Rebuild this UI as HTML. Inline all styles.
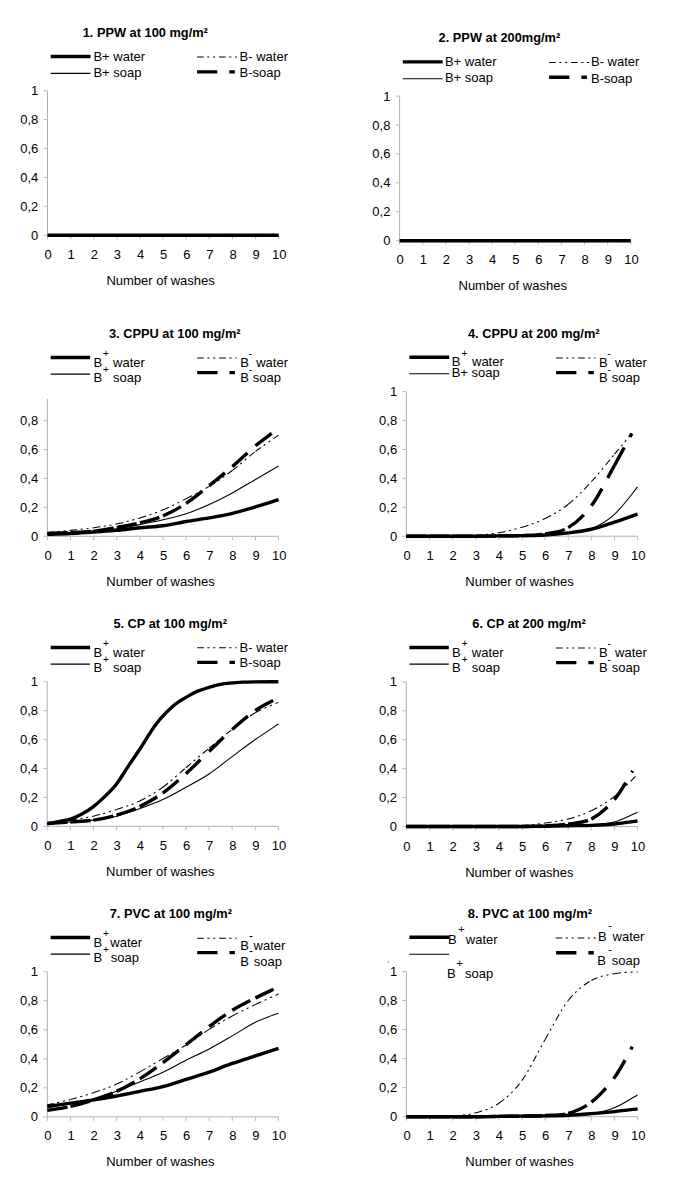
<!DOCTYPE html>
<html><head><meta charset="utf-8"><style>
html,body{margin:0;padding:0;background:#fff;}
svg{display:block;}
text{font-family:"Liberation Sans",sans-serif;font-size:13px;fill:#000;}
</style></head><body>
<svg width="685" height="1183" viewBox="0 0 685 1183">
<text x="82.7" y="36.8" font-weight="bold" style="font-size:12.8px">1. PPW at 100 mg/m²</text>
<path d="M50.7 56.5H90.5" stroke="#000" stroke-width="3.4" fill="none" stroke-linejoin="round"/>
<path d="M50.7 73.4H90.5" stroke="#000" stroke-width="1.1" fill="none"/>
<text x="93.4" y="60.9">B+ water</text>
<text x="93.4" y="76.9">B+ soap</text>
<path d="M197 57H237" stroke="#000" stroke-width="1.05" fill="none" stroke-dasharray="6.7 3.5 2.1 3.7 2.1 3.9"/>
<path d="M197 71.9H234.8" stroke="#000" stroke-width="3.4" fill="none" stroke-dasharray="20.3 12"/>
<text x="239.6" y="61">B- water</text>
<text x="239.6" y="77.2">B-soap</text>
<path d="M47.5 90.7V235.3" stroke="#b0b0b0" stroke-width="1" fill="none"/>
<path d="M47.5 235.3H278.7" stroke="#b0b0b0" stroke-width="1" fill="none"/>
<path d="M43.5 235.3H47.5 M43.5 206.38H47.5 M43.5 177.46H47.5 M43.5 148.54H47.5 M43.5 119.62H47.5 M43.5 90.7H47.5 M47.5 235.3V239.3 M70.62 235.3V239.3 M93.74 235.3V239.3 M116.86 235.3V239.3 M139.98 235.3V239.3 M163.1 235.3V239.3 M186.22 235.3V239.3 M209.34 235.3V239.3 M232.46 235.3V239.3 M255.58 235.3V239.3 M278.7 235.3V239.3" stroke="#bdbdbd" stroke-width="1" fill="none"/>
<text x="38.3" y="239.8" text-anchor="end">0</text>
<text x="38.3" y="210.88" text-anchor="end">0,2</text>
<text x="38.3" y="181.96" text-anchor="end">0,4</text>
<text x="38.3" y="153.04" text-anchor="end">0,6</text>
<text x="38.3" y="124.12" text-anchor="end">0,8</text>
<text x="38.3" y="95.2" text-anchor="end">1</text>
<text x="48.1" y="258.9" text-anchor="middle">0</text>
<text x="71.22" y="258.9" text-anchor="middle">1</text>
<text x="94.34" y="258.9" text-anchor="middle">2</text>
<text x="117.46" y="258.9" text-anchor="middle">3</text>
<text x="140.58" y="258.9" text-anchor="middle">4</text>
<text x="163.7" y="258.9" text-anchor="middle">5</text>
<text x="186.82" y="258.9" text-anchor="middle">6</text>
<text x="209.94" y="258.9" text-anchor="middle">7</text>
<text x="233.06" y="258.9" text-anchor="middle">8</text>
<text x="256.18" y="258.9" text-anchor="middle">9</text>
<text x="279.3" y="258.9" text-anchor="middle">10</text>
<text x="106.4" y="285">Number of washes</text>
<path d="M47.5 235.3H278.7" stroke="#000" stroke-width="3.4" fill="none" stroke-linejoin="round"/>
<text x="438.6" y="41.8" font-weight="bold" style="font-size:12.8px">2. PPW at 200mg/m²</text>
<path d="M402.8 61.9H442.6" stroke="#000" stroke-width="3.4" fill="none" stroke-linejoin="round"/>
<path d="M402.8 78.8H442.6" stroke="#000" stroke-width="1.1" fill="none"/>
<text x="444.9" y="66.3">B+ water</text>
<text x="444.9" y="82.3">B+ soap</text>
<path d="M549.1 62.4H589.1" stroke="#000" stroke-width="1.05" fill="none" stroke-dasharray="6.7 3.5 2.1 3.7 2.1 3.9"/>
<path d="M549.1 77.3H586.9" stroke="#000" stroke-width="3.4" fill="none" stroke-dasharray="20.3 12"/>
<text x="591" y="66.4">B- water</text>
<text x="591" y="82.6">B-soap</text>
<path d="M399.6 96.1V240.7" stroke="#b0b0b0" stroke-width="1" fill="none"/>
<path d="M399.6 240.7H630.8" stroke="#b0b0b0" stroke-width="1" fill="none"/>
<path d="M395.6 240.7H399.6 M395.6 211.78H399.6 M395.6 182.86H399.6 M395.6 153.94H399.6 M395.6 125.02H399.6 M395.6 96.1H399.6 M399.6 240.7V244.7 M422.72 240.7V244.7 M445.84 240.7V244.7 M468.96 240.7V244.7 M492.08 240.7V244.7 M515.2 240.7V244.7 M538.32 240.7V244.7 M561.44 240.7V244.7 M584.56 240.7V244.7 M607.68 240.7V244.7 M630.8 240.7V244.7" stroke="#bdbdbd" stroke-width="1" fill="none"/>
<text x="390.4" y="245.2" text-anchor="end">0</text>
<text x="390.4" y="216.28" text-anchor="end">0,2</text>
<text x="390.4" y="187.36" text-anchor="end">0,4</text>
<text x="390.4" y="158.44" text-anchor="end">0,6</text>
<text x="390.4" y="129.52" text-anchor="end">0,8</text>
<text x="390.4" y="100.6" text-anchor="end">1</text>
<text x="400.2" y="263.7" text-anchor="middle">0</text>
<text x="423.32" y="263.7" text-anchor="middle">1</text>
<text x="446.44" y="263.7" text-anchor="middle">2</text>
<text x="469.56" y="263.7" text-anchor="middle">3</text>
<text x="492.68" y="263.7" text-anchor="middle">4</text>
<text x="515.8" y="263.7" text-anchor="middle">5</text>
<text x="538.92" y="263.7" text-anchor="middle">6</text>
<text x="562.04" y="263.7" text-anchor="middle">7</text>
<text x="585.16" y="263.7" text-anchor="middle">8</text>
<text x="608.28" y="263.7" text-anchor="middle">9</text>
<text x="631.4" y="263.7" text-anchor="middle">10</text>
<text x="458.5" y="289.9">Number of washes</text>
<path d="M399.6 240.7H630.8" stroke="#000" stroke-width="3.4" fill="none" stroke-linejoin="round"/>
<text x="109" y="338" font-weight="bold" style="font-size:12.8px">3. CPPU at 100 mg/m²</text>
<path d="M50.7 357.5H90.1" stroke="#000" stroke-width="3.4" fill="none" stroke-linejoin="round"/>
<path d="M50.7 374.1H90.1" stroke="#000" stroke-width="1.1" fill="none"/>
<text x="93.4" y="367">B</text>
<text x="103.1" y="357" style="font-size:10px">+</text>
<text x="113.1" y="367">water</text>
<text x="93.4" y="382.2">B</text>
<text x="103.1" y="373" style="font-size:10px">+</text>
<text x="113.1" y="382.2">soap</text>
<path d="M197.2 357.9H236.6" stroke="#000" stroke-width="1.05" fill="none" stroke-dasharray="6.7 3.5 2.1 3.7 2.1 3.9"/>
<path d="M197.2 372.6H234.9" stroke="#000" stroke-width="3.4" fill="none" stroke-dasharray="20.3 12"/>
<text x="240.2" y="366.5">B</text>
<text x="248.7" y="356.5" style="font-size:10px">-</text>
<text x="256.2" y="366.5">water</text>
<text x="240.2" y="382.3">B</text>
<text x="248.7" y="373.3" style="font-size:10px">-</text>
<text x="252.8" y="382.3">soap</text>
<path d="M47.4 398.93V536.3" stroke="#b0b0b0" stroke-width="1" fill="none"/>
<path d="M47.4 536.3H278.6" stroke="#b0b0b0" stroke-width="1" fill="none"/>
<path d="M43.4 536.3H47.4 M43.4 507.38H47.4 M43.4 478.46H47.4 M43.4 449.54H47.4 M43.4 420.62H47.4 M47.4 536.3V540.3 M70.52 536.3V540.3 M93.64 536.3V540.3 M116.76 536.3V540.3 M139.88 536.3V540.3 M163 536.3V540.3 M186.12 536.3V540.3 M209.24 536.3V540.3 M232.36 536.3V540.3 M255.48 536.3V540.3 M278.6 536.3V540.3" stroke="#bdbdbd" stroke-width="1" fill="none"/>
<text x="38.2" y="540.8" text-anchor="end">0</text>
<text x="38.2" y="511.88" text-anchor="end">0,2</text>
<text x="38.2" y="482.96" text-anchor="end">0,4</text>
<text x="38.2" y="454.04" text-anchor="end">0,6</text>
<text x="38.2" y="425.12" text-anchor="end">0,8</text>
<text x="48" y="560.3" text-anchor="middle">0</text>
<text x="71.12" y="560.3" text-anchor="middle">1</text>
<text x="94.24" y="560.3" text-anchor="middle">2</text>
<text x="117.36" y="560.3" text-anchor="middle">3</text>
<text x="140.48" y="560.3" text-anchor="middle">4</text>
<text x="163.6" y="560.3" text-anchor="middle">5</text>
<text x="186.72" y="560.3" text-anchor="middle">6</text>
<text x="209.84" y="560.3" text-anchor="middle">7</text>
<text x="232.96" y="560.3" text-anchor="middle">8</text>
<text x="256.08" y="560.3" text-anchor="middle">9</text>
<text x="279.2" y="560.3" text-anchor="middle">10</text>
<text x="106.3" y="586.3">Number of washes</text>
<path d="M47.4 534.42C51.25 534.25 62.81 533.82 70.52 533.41C78.23 533 85.93 532.73 93.64 531.96C101.35 531.19 109.05 530.01 116.76 528.78C124.47 527.55 132.17 526.08 139.88 524.59C147.59 523.09 155.29 521.62 163 519.82C170.71 518.01 178.41 516.3 186.12 513.74C193.83 511.19 201.53 507.96 209.24 504.49C216.95 501.02 224.65 497.09 232.36 492.92C240.07 488.75 247.77 483.95 255.48 479.47C263.19 474.99 274.75 468.27 278.6 466.02" stroke="#000" stroke-width="1.1" fill="none"/>
<path d="M47.4 534.42C51.25 534.28 62.81 533.96 70.52 533.55C78.23 533.14 85.93 532.49 93.64 531.96C101.35 531.43 109.05 531.07 116.76 530.37C124.47 529.67 132.17 528.54 139.88 527.77C147.59 527 155.29 526.78 163 525.74C170.71 524.71 178.41 522.85 186.12 521.55C193.83 520.25 201.53 519.29 209.24 517.94C216.95 516.59 224.65 515.28 232.36 513.45C240.07 511.62 247.77 509.24 255.48 506.95C263.19 504.66 274.75 500.92 278.6 499.72" stroke="#000" stroke-width="3.4" fill="none" stroke-linejoin="round"/>
<g stroke="#000" stroke-width="1.05" fill="none" stroke-dasharray="6.7 3.5 2.1 3.7 2.1 3.9"><path d="M47.4 532.54C51.25 532.18 62.81 531.17 70.52 530.37"/><path d="M70.52 530.37C78.23 529.58 85.93 528.85 93.64 527.77"/><path d="M93.64 527.77C101.35 526.68 109.05 525.5 116.76 523.86"/><path d="M116.76 523.86C124.47 522.23 132.17 520.27 139.88 517.94"/><path d="M139.88 517.94C147.59 515.6 155.29 513.04 163 509.84"/><path d="M163 509.84C170.71 506.63 178.41 502.61 186.12 498.7"/><path d="M186.12 498.7C193.83 494.8 201.53 491.11 209.24 486.41"/><path d="M209.24 486.41C216.95 481.71 224.65 476.34 232.36 470.51"/><path d="M232.36 470.51C240.07 464.67 247.77 457.32 255.48 451.42"/><path d="M255.48 451.42C263.19 445.52 274.75 437.8 278.6 435.08"/></g>
<g stroke="#000" stroke-width="3.4" fill="none" stroke-dasharray="20.3 12"><path d="M47.4 533.41C51.25 533.29 62.81 533.05 70.52 532.68"/><path d="M70.52 532.68C78.23 532.32 85.93 532.13 93.64 531.24"/><path d="M93.64 531.24C101.35 530.35 109.05 528.73 116.76 527.33"/><path d="M116.76 527.33C124.47 525.94 132.17 524.76 139.88 522.85"/><path d="M139.88 522.85C147.59 520.95 155.29 519.16 163 515.91"/><path d="M163 515.91C170.71 512.66 178.41 508.39 186.12 503.33"/><path d="M186.12 503.33C193.83 498.27 201.53 491.67 209.24 485.55"/><path d="M209.24 485.55C216.95 479.42 224.65 473.23 232.36 466.6"/><path d="M232.36 466.6C240.07 459.98 248.89 451.32 255.48 445.78"/><path d="M255.48 445.78C262.07 440.24 269.16 435.42 271.9 433.34"/></g>
<text x="468" y="338" font-weight="bold" style="font-size:12.8px">4. CPPU at 200 mg/m²</text>
<path d="M409.4 357.3H449.2" stroke="#000" stroke-width="3.4" fill="none" stroke-linejoin="round"/>
<path d="M409.4 373.8H449.2" stroke="#000" stroke-width="1.1" fill="none"/>
<text x="451.7" y="366.4">B</text>
<text x="461.5" y="356.9" style="font-size:10px">+</text>
<text x="472" y="366.4">water</text>
<text x="451.7" y="377">B+ soap</text>
<path d="M556.1 357.9H595.5" stroke="#000" stroke-width="1.05" fill="none" stroke-dasharray="6.7 3.5 2.1 3.7 2.1 3.9"/>
<path d="M556.1 372.6H593.8" stroke="#000" stroke-width="3.4" fill="none" stroke-dasharray="20.3 12"/>
<text x="599.1" y="366.5">B</text>
<text x="607.6" y="356.5" style="font-size:10px">-</text>
<text x="615.1" y="366.5">water</text>
<text x="599.1" y="382.3">B</text>
<text x="607.6" y="373.3" style="font-size:10px">-</text>
<text x="611.7" y="382.3">soap</text>
<path d="M406.4 391.6V536.2" stroke="#b0b0b0" stroke-width="1" fill="none"/>
<path d="M406.4 536.2H637.6" stroke="#b0b0b0" stroke-width="1" fill="none"/>
<path d="M402.4 536.2H406.4 M402.4 507.28H406.4 M402.4 478.36H406.4 M402.4 449.44H406.4 M402.4 420.52H406.4 M402.4 391.6H406.4 M406.4 536.2V540.2 M429.52 536.2V540.2 M452.64 536.2V540.2 M475.76 536.2V540.2 M498.88 536.2V540.2 M522 536.2V540.2 M545.12 536.2V540.2 M568.24 536.2V540.2 M591.36 536.2V540.2 M614.48 536.2V540.2 M637.6 536.2V540.2" stroke="#bdbdbd" stroke-width="1" fill="none"/>
<text x="397.2" y="540.7" text-anchor="end">0</text>
<text x="397.2" y="511.78" text-anchor="end">0,2</text>
<text x="397.2" y="482.86" text-anchor="end">0,4</text>
<text x="397.2" y="453.94" text-anchor="end">0,6</text>
<text x="397.2" y="425.02" text-anchor="end">0,8</text>
<text x="397.2" y="396.1" text-anchor="end">1</text>
<text x="407" y="560.2" text-anchor="middle">0</text>
<text x="430.12" y="560.2" text-anchor="middle">1</text>
<text x="453.24" y="560.2" text-anchor="middle">2</text>
<text x="476.36" y="560.2" text-anchor="middle">3</text>
<text x="499.48" y="560.2" text-anchor="middle">4</text>
<text x="522.6" y="560.2" text-anchor="middle">5</text>
<text x="545.72" y="560.2" text-anchor="middle">6</text>
<text x="568.84" y="560.2" text-anchor="middle">7</text>
<text x="591.96" y="560.2" text-anchor="middle">8</text>
<text x="615.08" y="560.2" text-anchor="middle">9</text>
<text x="638.2" y="560.2" text-anchor="middle">10</text>
<text x="465.3" y="586.2">Number of washes</text>
<path d="M406.4 536.2C410.25 536.2 421.81 536.2 429.52 536.2C437.23 536.2 444.93 536.2 452.64 536.2C460.35 536.2 468.05 536.25 475.76 536.2C483.47 536.15 491.17 536.01 498.88 535.91C506.59 535.81 514.29 535.77 522 535.62C529.71 535.48 537.41 535.43 545.12 535.04C552.83 534.66 560.53 534.34 568.24 533.31C575.95 532.27 583.65 531.98 591.36 528.83C599.07 525.67 606.77 521.35 614.48 514.37C622.19 507.38 633.75 491.47 637.6 486.89" stroke="#000" stroke-width="1.1" fill="none"/>
<path d="M406.4 536.2C410.25 536.2 421.81 536.2 429.52 536.2C437.23 536.2 444.93 536.2 452.64 536.2C460.35 536.2 468.05 536.25 475.76 536.2C483.47 536.15 491.17 536.01 498.88 535.91C506.59 535.81 514.29 535.77 522 535.62C529.71 535.48 537.41 535.5 545.12 535.04C552.83 534.59 560.53 533.84 568.24 532.87C575.95 531.91 583.65 531.04 591.36 529.26C599.07 527.48 606.77 524.7 614.48 522.17C622.19 519.64 633.75 515.43 637.6 514.08" stroke="#000" stroke-width="3.4" fill="none" stroke-linejoin="round"/>
<g stroke="#000" stroke-width="1.05" fill="none" stroke-dasharray="6.7 3.5 2.1 3.7 2.1 3.9"><path d="M406.4 536.2C410.25 536.2 421.81 536.2 429.52 536.2"/><path d="M429.52 536.2C437.23 536.2 444.93 536.32 452.64 536.2"/><path d="M452.64 536.2C460.35 536.08 468.05 536.06 475.76 535.48"/><path d="M475.76 535.48C483.47 534.9 491.17 534.1 498.88 532.73"/><path d="M498.88 532.73C506.59 531.36 514.29 529.6 522 527.23"/><path d="M522 527.23C529.71 524.87 537.41 522.39 545.12 518.56"/><path d="M545.12 518.56C552.83 514.73 560.53 510.39 568.24 504.24"/><path d="M568.24 504.24C575.95 498.1 583.65 490.02 591.36 481.69"/><path d="M591.36 481.69C599.07 473.35 607.74 462.24 614.48 454.21"/><path d="M614.48 454.21C621.22 446.19 628.93 436.98 631.82 433.53"/></g>
<g stroke="#000" stroke-width="3.4" fill="none" stroke-dasharray="20.3 12"><path d="M406.4 536.2C410.25 536.2 421.81 536.2 429.52 536.2"/><path d="M429.52 536.2C437.23 536.2 444.93 536.2 452.64 536.2"/><path d="M452.64 536.2C460.35 536.2 468.05 536.25 475.76 536.2"/><path d="M475.76 536.2C483.47 536.15 491.17 536.01 498.88 535.91"/><path d="M498.88 535.91C506.59 535.81 514.29 535.96 522 535.62"/><path d="M522 535.62C529.71 535.28 537.41 535.21 545.12 533.89"/><path d="M545.12 533.89C552.83 532.56 560.53 532.34 568.24 527.67"/><path d="M568.24 527.67C575.95 522.99 583.65 516.22 591.36 505.83"/><path d="M591.36 505.83C599.07 495.45 607.74 477.4 614.48 465.35"/><path d="M614.48 465.35C621.22 453.3 628.93 438.84 631.82 433.53"/></g>
<text x="113.4" y="628" font-weight="bold" style="font-size:12.8px">5. CP at 100 mg/m²</text>
<path d="M50.7 647.5H90.1" stroke="#000" stroke-width="3.4" fill="none" stroke-linejoin="round"/>
<path d="M50.7 664.1H90.1" stroke="#000" stroke-width="1.1" fill="none"/>
<text x="93.4" y="657">B</text>
<text x="103.1" y="647" style="font-size:10px">+</text>
<text x="113.1" y="657">water</text>
<text x="93.4" y="672.2">B</text>
<text x="103.1" y="663" style="font-size:10px">+</text>
<text x="113.1" y="672.2">soap</text>
<path d="M197.2 647.7H236.6" stroke="#000" stroke-width="1.05" fill="none" stroke-dasharray="6.7 3.5 2.1 3.7 2.1 3.9"/>
<path d="M197.2 662.4H234.9" stroke="#000" stroke-width="3.4" fill="none" stroke-dasharray="20.3 12"/>
<text x="239.6" y="651.7">B- water</text>
<text x="239.6" y="667">B-soap</text>
<path d="M47.2 681.7V826.3" stroke="#b0b0b0" stroke-width="1" fill="none"/>
<path d="M47.2 826.3H278.4" stroke="#b0b0b0" stroke-width="1" fill="none"/>
<path d="M43.2 826.3H47.2 M43.2 797.38H47.2 M43.2 768.46H47.2 M43.2 739.54H47.2 M43.2 710.62H47.2 M43.2 681.7H47.2 M47.2 826.3V830.3 M70.32 826.3V830.3 M93.44 826.3V830.3 M116.56 826.3V830.3 M139.68 826.3V830.3 M162.8 826.3V830.3 M185.92 826.3V830.3 M209.04 826.3V830.3 M232.16 826.3V830.3 M255.28 826.3V830.3 M278.4 826.3V830.3" stroke="#bdbdbd" stroke-width="1" fill="none"/>
<text x="38" y="830.8" text-anchor="end">0</text>
<text x="38" y="801.88" text-anchor="end">0,2</text>
<text x="38" y="772.96" text-anchor="end">0,4</text>
<text x="38" y="744.04" text-anchor="end">0,6</text>
<text x="38" y="715.12" text-anchor="end">0,8</text>
<text x="38" y="686.2" text-anchor="end">1</text>
<text x="47.8" y="850.3" text-anchor="middle">0</text>
<text x="70.92" y="850.3" text-anchor="middle">1</text>
<text x="94.04" y="850.3" text-anchor="middle">2</text>
<text x="117.16" y="850.3" text-anchor="middle">3</text>
<text x="140.28" y="850.3" text-anchor="middle">4</text>
<text x="163.4" y="850.3" text-anchor="middle">5</text>
<text x="186.52" y="850.3" text-anchor="middle">6</text>
<text x="209.64" y="850.3" text-anchor="middle">7</text>
<text x="232.76" y="850.3" text-anchor="middle">8</text>
<text x="255.88" y="850.3" text-anchor="middle">9</text>
<text x="279" y="850.3" text-anchor="middle">10</text>
<text x="106.1" y="876.3">Number of washes</text>
<path d="M47.2 823.55C51.05 823.29 62.61 822.54 70.32 821.96C78.03 821.38 85.73 821.05 93.44 820.08C101.15 819.12 108.85 818.08 116.56 816.18C124.27 814.27 131.97 811.43 139.68 808.66C147.39 805.89 155.09 803.12 162.8 799.55C170.51 795.98 178.21 791.52 185.92 787.26C193.63 782.99 201.33 779.06 209.04 773.95C216.75 768.85 224.45 762.34 232.16 756.6C239.87 750.87 247.57 744.96 255.28 739.54C262.99 734.12 274.55 726.65 278.4 724.07" stroke="#000" stroke-width="1.1" fill="none"/>
<path d="M47.2 823.7C51.05 822.93 64.46 820.71 70.32 819.07C76.18 817.43 78.49 815.94 82.34 813.86C86.2 811.79 89.55 809.67 93.44 806.63C97.33 803.6 101.84 799.43 105.69 795.64C109.55 791.86 112.9 788.68 116.56 783.93C120.22 779.18 123.77 772.99 127.66 767.16C131.55 761.33 135.06 756.27 139.91 748.94C144.77 741.61 151.01 730.55 156.79 723.2C162.57 715.85 169.58 709.22 174.59 704.84C179.6 700.45 182.88 699.2 186.84 696.88C190.81 694.57 192.82 693.05 198.4 690.95C203.99 688.86 212.78 685.77 220.37 684.3C227.96 682.83 234.28 682.57 243.95 682.13C253.62 681.7 272.66 681.77 278.4 681.7" stroke="#000" stroke-width="3.4" fill="none" stroke-linejoin="round"/>
<g stroke="#000" stroke-width="1.05" fill="none" stroke-dasharray="6.7 3.5 2.1 3.7 2.1 3.9"><path d="M47.2 823.55C51.05 822.97 62.61 821.31 70.32 820.08"/><path d="M70.32 820.08C78.03 818.85 85.73 817.94 93.44 816.18"/><path d="M93.44 816.18C101.15 814.42 108.85 812.06 116.56 809.53"/><path d="M116.56 809.53C124.27 807 131.97 804.71 139.68 801"/><path d="M139.68 801C147.39 797.28 155.09 792.8 162.8 787.26"/><path d="M162.8 787.26C170.51 781.71 178.21 774.24 185.92 767.74"/><path d="M185.92 767.74C193.63 761.23 201.33 754.6 209.04 748.22"/><path d="M209.04 748.22C216.75 741.83 224.45 735.32 232.16 729.42"/><path d="M232.16 729.42C239.87 723.51 247.57 717.3 255.28 712.79"/><path d="M255.28 712.79C262.99 708.28 274.55 704.11 278.4 702.38"/></g>
<g stroke="#000" stroke-width="3.4" fill="none" stroke-dasharray="20.3 12"><path d="M47.2 823.55C51.05 823.29 62.61 822.54 70.32 821.96"/><path d="M70.32 821.96C78.03 821.38 85.73 821.21 93.44 820.08"/><path d="M93.44 820.08C101.15 818.95 108.85 817.41 116.56 815.17"/><path d="M116.56 815.17C124.27 812.92 131.97 810.32 139.68 806.63"/><path d="M139.68 806.63C147.39 802.95 155.09 798.54 162.8 793.04"/><path d="M162.8 793.04C170.51 787.55 178.21 780.61 185.92 773.67"/><path d="M185.92 773.67C193.63 766.72 201.33 758.77 209.04 751.4"/><path d="M209.04 751.4C216.75 744.02 224.45 736.21 232.16 729.42"/><path d="M232.16 729.42C239.87 722.62 248.38 715.46 255.28 710.62"/><path d="M255.28 710.62C262.18 705.78 270.5 702.06 273.54 700.35"/></g>
<text x="472.3" y="628" font-weight="bold" style="font-size:12.8px">6. CP at 200 mg/m²</text>
<path d="M409.4 647.5H448.8" stroke="#000" stroke-width="3.4" fill="none" stroke-linejoin="round"/>
<path d="M409.4 664.1H448.8" stroke="#000" stroke-width="1.1" fill="none"/>
<text x="452.1" y="657">B</text>
<text x="461.8" y="647" style="font-size:10px">+</text>
<text x="471.8" y="657">water</text>
<text x="452.1" y="672.2">B</text>
<text x="461.8" y="663" style="font-size:10px">+</text>
<text x="471.8" y="672.2">soap</text>
<path d="M556.1 647.9H595.5" stroke="#000" stroke-width="1.05" fill="none" stroke-dasharray="6.7 3.5 2.1 3.7 2.1 3.9"/>
<path d="M556.1 662.6H593.8" stroke="#000" stroke-width="3.4" fill="none" stroke-dasharray="20.3 12"/>
<text x="599.1" y="656.5">B</text>
<text x="607.6" y="646.5" style="font-size:10px">-</text>
<text x="615.1" y="656.5">water</text>
<text x="599.1" y="672.3">B</text>
<text x="607.6" y="663.3" style="font-size:10px">-</text>
<text x="611.7" y="672.3">soap</text>
<path d="M406.3 681.9V826.5" stroke="#b0b0b0" stroke-width="1" fill="none"/>
<path d="M406.3 826.5H637.5" stroke="#b0b0b0" stroke-width="1" fill="none"/>
<path d="M402.3 826.5H406.3 M402.3 797.58H406.3 M402.3 768.66H406.3 M402.3 739.74H406.3 M402.3 710.82H406.3 M402.3 681.9H406.3 M406.3 826.5V830.5 M429.42 826.5V830.5 M452.54 826.5V830.5 M475.66 826.5V830.5 M498.78 826.5V830.5 M521.9 826.5V830.5 M545.02 826.5V830.5 M568.14 826.5V830.5 M591.26 826.5V830.5 M614.38 826.5V830.5 M637.5 826.5V830.5" stroke="#bdbdbd" stroke-width="1" fill="none"/>
<text x="397.1" y="831" text-anchor="end">0</text>
<text x="397.1" y="802.08" text-anchor="end">0,2</text>
<text x="397.1" y="773.16" text-anchor="end">0,4</text>
<text x="397.1" y="744.24" text-anchor="end">0,6</text>
<text x="397.1" y="715.32" text-anchor="end">0,8</text>
<text x="397.1" y="686.4" text-anchor="end">1</text>
<text x="406.9" y="850.5" text-anchor="middle">0</text>
<text x="430.02" y="850.5" text-anchor="middle">1</text>
<text x="453.14" y="850.5" text-anchor="middle">2</text>
<text x="476.26" y="850.5" text-anchor="middle">3</text>
<text x="499.38" y="850.5" text-anchor="middle">4</text>
<text x="522.5" y="850.5" text-anchor="middle">5</text>
<text x="545.62" y="850.5" text-anchor="middle">6</text>
<text x="568.74" y="850.5" text-anchor="middle">7</text>
<text x="591.86" y="850.5" text-anchor="middle">8</text>
<text x="614.98" y="850.5" text-anchor="middle">9</text>
<text x="638.1" y="850.5" text-anchor="middle">10</text>
<text x="465.2" y="876.5">Number of washes</text>
<path d="M406.3 826.5C410.15 826.5 421.71 826.5 429.42 826.5C437.13 826.5 444.83 826.5 452.54 826.5C460.25 826.5 467.95 826.5 475.66 826.5C483.37 826.5 491.07 826.5 498.78 826.5C506.49 826.5 514.19 826.55 521.9 826.5C529.61 826.45 537.31 826.33 545.02 826.21C552.73 826.09 560.43 825.97 568.14 825.78C575.85 825.58 583.55 825.68 591.26 825.05C598.97 824.43 606.67 824.16 614.38 822.02C622.09 819.87 633.65 813.82 637.5 812.18" stroke="#000" stroke-width="1.1" fill="none"/>
<path d="M406.3 826.5C410.15 826.5 421.71 826.5 429.42 826.5C437.13 826.5 444.83 826.5 452.54 826.5C460.25 826.5 467.95 826.5 475.66 826.5C483.37 826.5 491.07 826.5 498.78 826.5C506.49 826.5 514.19 826.55 521.9 826.5C529.61 826.45 537.31 826.33 545.02 826.21C552.73 826.09 560.43 825.92 568.14 825.78C575.85 825.63 583.55 825.63 591.26 825.34C598.97 825.05 606.67 824.76 614.38 824.04C622.09 823.32 633.65 821.51 637.5 821.01" stroke="#000" stroke-width="3.4" fill="none" stroke-linejoin="round"/>
<g stroke="#000" stroke-width="1.05" fill="none" stroke-dasharray="6.7 3.5 2.1 3.7 2.1 3.9"><path d="M406.3 826.5C410.15 826.5 421.71 826.5 429.42 826.5"/><path d="M429.42 826.5C437.13 826.5 444.83 826.5 452.54 826.5"/><path d="M452.54 826.5C460.25 826.5 467.95 826.5 475.66 826.5"/><path d="M475.66 826.5C483.37 826.5 491.07 826.64 498.78 826.5"/><path d="M498.78 826.5C506.49 826.36 514.19 826.21 521.9 825.63"/><path d="M521.9 825.63C529.61 825.05 537.31 824.14 545.02 823.03"/><path d="M545.02 823.03C552.73 821.92 560.43 821.03 568.14 818.98"/><path d="M568.14 818.98C575.85 816.93 583.55 814.5 591.26 810.74"/><path d="M591.26 810.74C598.97 806.98 606.67 802.47 614.38 796.42"/><path d="M614.38 796.42C622.09 790.37 633.65 778.11 637.5 774.44"/></g>
<g stroke="#000" stroke-width="3.4" fill="none" stroke-dasharray="20.3 12"><path d="M406.3 826.5C410.15 826.5 421.71 826.5 429.42 826.5"/><path d="M429.42 826.5C437.13 826.5 444.83 826.5 452.54 826.5"/><path d="M452.54 826.5C460.25 826.5 467.95 826.5 475.66 826.5"/><path d="M475.66 826.5C483.37 826.5 491.07 826.5 498.78 826.5"/><path d="M498.78 826.5C506.49 826.5 514.19 826.6 521.9 826.5"/><path d="M521.9 826.5C529.61 826.4 537.31 826.33 545.02 825.92"/><path d="M545.02 825.92C552.73 825.51 560.43 825.2 568.14 824.04"/><path d="M568.14 824.04C575.85 822.88 583.55 823.05 591.26 818.98"/><path d="M591.26 818.98C598.97 814.91 607.48 807.63 614.38 799.6"/><path d="M614.38 799.6C621.28 791.58 629.6 775.62 632.64 770.83"/></g>
<text x="109.7" y="918" font-weight="bold" style="font-size:12.8px">7. PVC at 100 mg/m²</text>
<path d="M50.7 937.5H90.1" stroke="#000" stroke-width="3.4" fill="none" stroke-linejoin="round"/>
<path d="M50.7 954.1H90.1" stroke="#000" stroke-width="1.1" fill="none"/>
<text x="93.4" y="947">B</text>
<text x="103.1" y="937" style="font-size:10px">+</text>
<text x="110.3" y="947">water</text>
<text x="93.4" y="962.2">B</text>
<text x="103.1" y="953" style="font-size:10px">+</text>
<text x="110.8" y="962.2">soap</text>
<path d="M197.2 938.2H236.6" stroke="#000" stroke-width="1.05" fill="none" stroke-dasharray="6.7 3.5 2.1 3.7 2.1 3.9"/>
<path d="M197.2 952.6H234.9" stroke="#000" stroke-width="3.4" fill="none" stroke-dasharray="20.3 12"/>
<text x="249" y="939.8" style="font-size:12px">-</text>
<text x="240.2" y="950.4">B</text>
<text x="253.6" y="950.4">water</text>
<text x="249" y="955.2" style="font-size:12px">-</text>
<text x="240.2" y="966.3">B</text>
<text x="253.8" y="966.3">soap</text>
<path d="M47.3 971.7V1116.9" stroke="#b0b0b0" stroke-width="1" fill="none"/>
<path d="M47.3 1116.9H278.5" stroke="#b0b0b0" stroke-width="1" fill="none"/>
<path d="M43.3 1116.9H47.3 M43.3 1087.86H47.3 M43.3 1058.82H47.3 M43.3 1029.78H47.3 M43.3 1000.74H47.3 M43.3 971.7H47.3 M47.3 1116.9V1120.9 M70.42 1116.9V1120.9 M93.54 1116.9V1120.9 M116.66 1116.9V1120.9 M139.78 1116.9V1120.9 M162.9 1116.9V1120.9 M186.02 1116.9V1120.9 M209.14 1116.9V1120.9 M232.26 1116.9V1120.9 M255.38 1116.9V1120.9 M278.5 1116.9V1120.9" stroke="#bdbdbd" stroke-width="1" fill="none"/>
<text x="38.1" y="1121.4" text-anchor="end">0</text>
<text x="38.1" y="1092.36" text-anchor="end">0,2</text>
<text x="38.1" y="1063.32" text-anchor="end">0,4</text>
<text x="38.1" y="1034.28" text-anchor="end">0,6</text>
<text x="38.1" y="1005.24" text-anchor="end">0,8</text>
<text x="38.1" y="976.2" text-anchor="end">1</text>
<text x="47.9" y="1139.5" text-anchor="middle">0</text>
<text x="71.02" y="1139.5" text-anchor="middle">1</text>
<text x="94.14" y="1139.5" text-anchor="middle">2</text>
<text x="117.26" y="1139.5" text-anchor="middle">3</text>
<text x="140.38" y="1139.5" text-anchor="middle">4</text>
<text x="163.5" y="1139.5" text-anchor="middle">5</text>
<text x="186.62" y="1139.5" text-anchor="middle">6</text>
<text x="209.74" y="1139.5" text-anchor="middle">7</text>
<text x="232.86" y="1139.5" text-anchor="middle">8</text>
<text x="255.98" y="1139.5" text-anchor="middle">9</text>
<text x="279.1" y="1139.5" text-anchor="middle">10</text>
<text x="106.2" y="1165.5">Number of washes</text>
<path d="M47.3 1107.46C51.15 1106.83 62.71 1105.11 70.42 1103.69C78.13 1102.26 85.83 1100.95 93.54 1098.9C101.25 1096.84 108.95 1094.18 116.66 1091.34C124.37 1088.51 132.07 1085.1 139.78 1081.91C147.49 1078.71 155.19 1075.78 162.9 1072.18C170.61 1068.57 178.31 1064.14 186.02 1060.27C193.73 1056.4 201.43 1053.01 209.14 1048.95C216.85 1044.88 224.55 1040.33 232.26 1035.88C239.97 1031.43 247.67 1026 255.38 1022.23C263.09 1018.45 274.65 1014.73 278.5 1013.23" stroke="#000" stroke-width="1.1" fill="none"/>
<path d="M47.3 1106.45C51.15 1105.89 62.71 1104.19 70.42 1103.11C78.13 1102.02 85.83 1101.1 93.54 1099.91C101.25 1098.73 108.95 1097.42 116.66 1095.99C124.37 1094.56 132.07 1092.92 139.78 1091.34C147.49 1089.77 155.19 1088.54 162.9 1086.55C170.61 1084.57 178.31 1081.83 186.02 1079.44C193.73 1077.04 201.43 1074.84 209.14 1072.18C216.85 1069.52 224.55 1066.18 232.26 1063.47C239.97 1060.76 247.67 1058.43 255.38 1055.92C263.09 1053.4 274.65 1049.62 278.5 1048.37" stroke="#000" stroke-width="3.4" fill="none" stroke-linejoin="round"/>
<g stroke="#000" stroke-width="1.05" fill="none" stroke-dasharray="6.7 3.5 2.1 3.7 2.1 3.9"><path d="M47.3 1104.85C51.15 1103.95 62.71 1101.51 70.42 1099.48"/><path d="M70.42 1099.48C78.13 1097.44 85.83 1095.22 93.54 1092.65"/><path d="M93.54 1092.65C101.25 1090.09 108.95 1087.55 116.66 1084.08"/><path d="M116.66 1084.08C124.37 1080.62 132.07 1076.15 139.78 1071.89"/><path d="M139.78 1071.89C147.49 1067.63 155.19 1063.01 162.9 1058.53"/><path d="M162.9 1058.53C170.61 1054.05 178.31 1049.89 186.02 1045.03"/><path d="M186.02 1045.03C193.73 1040.16 201.43 1034.18 209.14 1029.34"/><path d="M209.14 1029.34C216.85 1024.5 224.55 1020.12 232.26 1015.99"/><path d="M232.26 1015.99C239.97 1011.85 247.67 1008.17 255.38 1004.52"/><path d="M255.38 1004.52C263.09 1000.86 274.65 995.8 278.5 994.06"/></g>
<g stroke="#000" stroke-width="3.4" fill="none" stroke-dasharray="20.3 12"><path d="M47.3 1110.37C51.15 1109.71 62.71 1108.19 70.42 1106.45"/><path d="M70.42 1106.45C78.13 1104.7 85.83 1102.43 93.54 1099.91"/><path d="M93.54 1099.91C101.25 1097.39 108.95 1094.85 116.66 1091.34"/><path d="M116.66 1091.34C124.37 1087.84 132.07 1083.62 139.78 1078.86"/><path d="M139.78 1078.86C147.49 1074.09 155.19 1068.43 162.9 1062.74"/><path d="M162.9 1062.74C170.61 1057.05 178.31 1050.76 186.02 1044.74"/><path d="M186.02 1044.74C193.73 1038.71 201.43 1032.32 209.14 1026.59"/><path d="M209.14 1026.59C216.85 1020.85 224.55 1015.09 232.26 1010.32"/><path d="M232.26 1010.32C239.97 1005.56 248.48 1001.49 255.38 997.98"/><path d="M255.38 997.98C262.28 994.47 270.6 990.72 273.64 989.27"/></g>
<text x="467.8" y="918" font-weight="bold">8. PVC at 100 mg/m²</text>
<path d="M409.4 937.3H449.2" stroke="#000" stroke-width="3.4" fill="none" stroke-linejoin="round"/>
<path d="M409.4 954.3H449.2" stroke="#000" stroke-width="1.1" fill="none"/>
<text x="447.9" y="943.8">B</text>
<text x="458.1" y="932.8" style="font-size:11.5px">+</text>
<text x="465.8" y="943.8">water</text>
<text x="456.3" y="967" style="font-size:11.5px">+</text>
<text x="447" y="978">B</text>
<text x="465" y="978">soap</text>
<circle cx="388.4" cy="962.2" r="0.6" fill="#555"/>
<path d="M555.6 938H595.8" stroke="#000" stroke-width="1.05" fill="none" stroke-dasharray="6.7 3.5 2.1 3.7 2.1 3.9"/>
<path d="M556.1 952.7H593.8" stroke="#000" stroke-width="3.4" fill="none" stroke-dasharray="20.3 12"/>
<text x="598" y="940.7">B</text>
<text x="608.1" y="929.3" style="font-size:11.5px">-</text>
<text x="612.6" y="940.7">water</text>
<text x="608.1" y="953.1" style="font-size:11.5px">-</text>
<text x="597.2" y="964.8">B</text>
<text x="611.8" y="964.8">soap</text>
<path d="M406.4 971.5V1116.7" stroke="#b0b0b0" stroke-width="1" fill="none"/>
<path d="M406.4 1116.7H637.6" stroke="#b0b0b0" stroke-width="1" fill="none"/>
<path d="M402.4 1116.7H406.4 M402.4 1087.66H406.4 M402.4 1058.62H406.4 M402.4 1029.58H406.4 M402.4 1000.54H406.4 M402.4 971.5H406.4 M406.4 1116.7V1120.7 M429.52 1116.7V1120.7 M452.64 1116.7V1120.7 M475.76 1116.7V1120.7 M498.88 1116.7V1120.7 M522 1116.7V1120.7 M545.12 1116.7V1120.7 M568.24 1116.7V1120.7 M591.36 1116.7V1120.7 M614.48 1116.7V1120.7 M637.6 1116.7V1120.7" stroke="#bdbdbd" stroke-width="1" fill="none"/>
<text x="397.2" y="1121.2" text-anchor="end">0</text>
<text x="397.2" y="1092.16" text-anchor="end">0,2</text>
<text x="397.2" y="1063.12" text-anchor="end">0,4</text>
<text x="397.2" y="1034.08" text-anchor="end">0,6</text>
<text x="397.2" y="1005.04" text-anchor="end">0,8</text>
<text x="397.2" y="976" text-anchor="end">1</text>
<text x="407" y="1139.5" text-anchor="middle">0</text>
<text x="430.12" y="1139.5" text-anchor="middle">1</text>
<text x="453.24" y="1139.5" text-anchor="middle">2</text>
<text x="476.36" y="1139.5" text-anchor="middle">3</text>
<text x="499.48" y="1139.5" text-anchor="middle">4</text>
<text x="522.6" y="1139.5" text-anchor="middle">5</text>
<text x="545.72" y="1139.5" text-anchor="middle">6</text>
<text x="568.84" y="1139.5" text-anchor="middle">7</text>
<text x="591.96" y="1139.5" text-anchor="middle">8</text>
<text x="615.08" y="1139.5" text-anchor="middle">9</text>
<text x="638.2" y="1139.5" text-anchor="middle">10</text>
<text x="465.3" y="1165.5">Number of washes</text>
<path d="M406.4 1116.7C410.25 1116.7 421.81 1116.7 429.52 1116.7C437.23 1116.7 444.93 1116.7 452.64 1116.7C460.35 1116.7 468.05 1116.75 475.76 1116.7C483.47 1116.65 491.17 1116.51 498.88 1116.41C506.59 1116.31 514.29 1116.22 522 1116.12C529.71 1116.02 537.41 1115.97 545.12 1115.83C552.83 1115.68 560.53 1115.59 568.24 1115.25C575.95 1114.91 583.65 1115.03 591.36 1113.8C599.07 1112.56 606.77 1110.99 614.48 1107.84C622.19 1104.7 633.75 1097.07 637.6 1094.92" stroke="#000" stroke-width="1.1" fill="none"/>
<path d="M406.4 1116.7C410.25 1116.7 421.81 1116.7 429.52 1116.7C437.23 1116.7 444.93 1116.7 452.64 1116.7C460.35 1116.7 468.05 1116.75 475.76 1116.7C483.47 1116.65 491.17 1116.51 498.88 1116.41C506.59 1116.31 514.29 1116.22 522 1116.12C529.71 1116.02 537.41 1115.97 545.12 1115.83C552.83 1115.68 560.53 1115.61 568.24 1115.25C575.95 1114.88 583.65 1114.26 591.36 1113.65C599.07 1113.05 606.77 1112.42 614.48 1111.62C622.19 1110.82 633.75 1109.32 637.6 1108.86" stroke="#000" stroke-width="3.4" fill="none" stroke-linejoin="round"/>
<g stroke="#000" stroke-width="1.05" fill="none" stroke-dasharray="6.7 3.5 2.1 3.7 2.1 3.9"><path d="M406.4 1116.7C410.25 1116.7 421.81 1116.82 429.52 1116.7"/><path d="M429.52 1116.7C437.23 1116.58 444.93 1116.63 452.64 1115.97"/><path d="M452.64 1115.97C460.35 1115.32 468.05 1114.91 475.76 1112.78"/><path d="M475.76 1112.78C483.47 1110.65 491.17 1108.59 498.88 1103.2"/><path d="M498.88 1103.2C506.59 1097.8 514.29 1091.02 522 1080.4"/><path d="M522 1080.4C529.71 1069.78 537.41 1052.76 545.12 1039.45"/><path d="M545.12 1039.45C552.83 1026.14 560.53 1010.37 568.24 1000.54"/><path d="M568.24 1000.54C575.95 990.71 583.65 984.98 591.36 980.5"/><path d="M591.36 980.5C599.07 976.03 606.77 975.13 614.48 973.68"/><path d="M614.48 973.68C622.19 972.23 633.75 972.11 637.6 971.79"/></g>
<g stroke="#000" stroke-width="3.4" fill="none" stroke-dasharray="20.3 12"><path d="M406.4 1116.7C410.25 1116.7 421.81 1116.7 429.52 1116.7"/><path d="M429.52 1116.7C437.23 1116.7 444.93 1116.7 452.64 1116.7"/><path d="M452.64 1116.7C460.35 1116.7 468.05 1116.75 475.76 1116.7"/><path d="M475.76 1116.7C483.47 1116.65 491.17 1116.51 498.88 1116.41"/><path d="M498.88 1116.41C506.59 1116.31 514.29 1116.26 522 1116.12"/><path d="M522 1116.12C529.71 1115.97 537.41 1116 545.12 1115.54"/><path d="M545.12 1115.54C552.83 1115.08 560.53 1115.59 568.24 1113.36"/><path d="M568.24 1113.36C575.95 1111.13 583.65 1108.16 591.36 1102.18"/><path d="M591.36 1102.18C599.07 1096.2 607.66 1086.76 614.48 1077.5"/><path d="M614.48 1077.5C621.3 1068.23 629.32 1051.72 632.28 1046.57"/></g>
</svg>
</body></html>
